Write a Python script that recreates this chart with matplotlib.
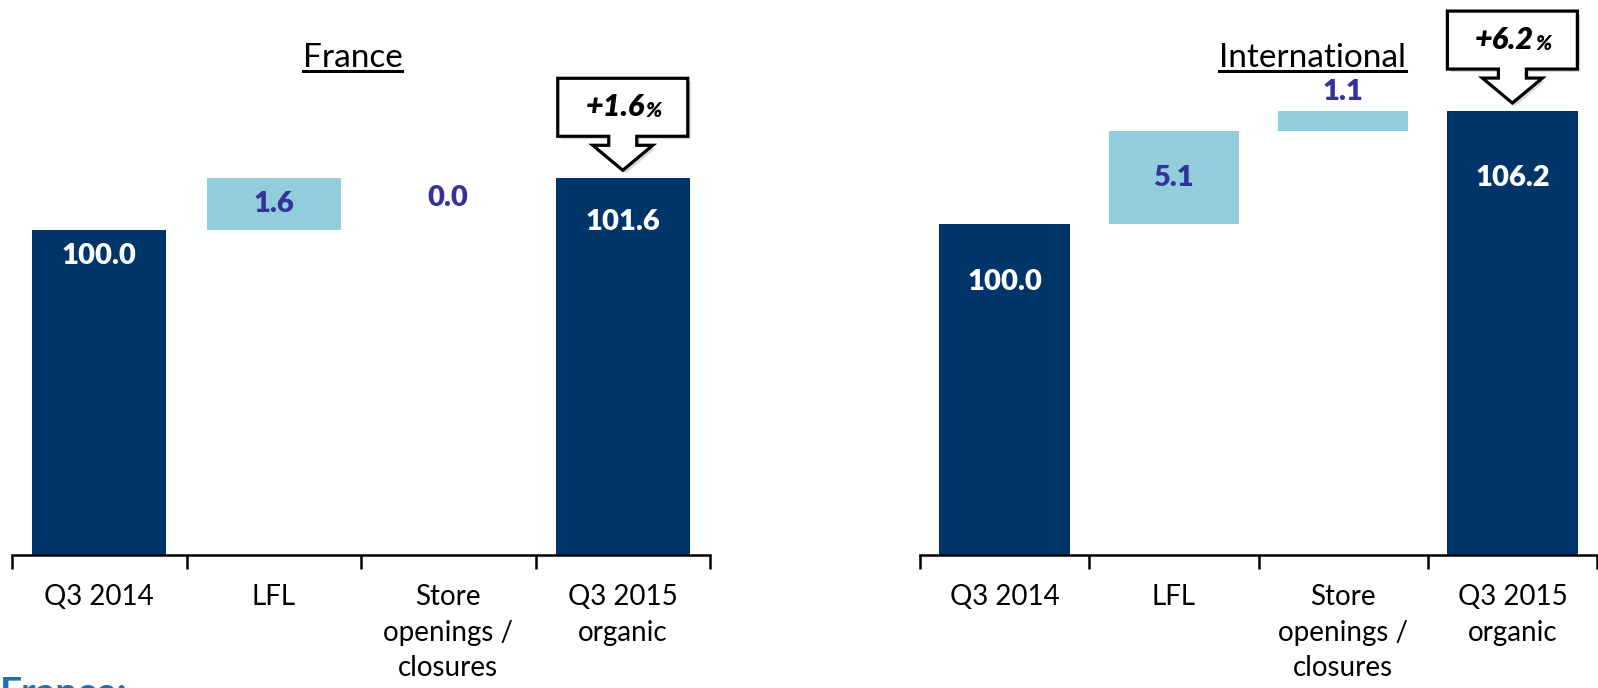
import matplotlib
matplotlib.use("Agg")
import matplotlib.pyplot as plt
from matplotlib.patches import Polygon
from matplotlib.transforms import IdentityTransform
from matplotlib.lines import Line2D

plt.rcParams['font.family'] = ['Lato', 'DejaVu Sans']

# ---- data ----
categories = ["Q3 2014", "LFL", "Store\nopenings /\nclosures", "Q3 2015\norganic"]
france_values = [100.0, 1.6, 0.0, 101.6]
intl_values = [100.0, 5.1, 1.1, 106.2]
bar_kinds = ["total", "delta", "delta", "total"]
panel_titles = ["France", "International"]

# ---- styles ----
DARK = "#00356A"
LIGHT = "#92CDDC"
LABEL_PURPLE = "#333399"
W, H = 1598, 688
fig = plt.figure(figsize=(W / 100, H / 100), dpi=100)

panels = [
    dict(values=france_values, title=panel_titles[0], xl=12, xr=710, ylim=(90.0, 107.09),
         label_off=[-26, 0, -20, -44], title_x=352.5),
    dict(values=intl_values, title=panel_titles[1], xl=920, xr=1597, ylim=(81.9, 112.28),
         label_off=[-58, 0, 19, -67], title_x=1312.5),
]
base_y = 555

axes = []
for p in panels:
    ax = fig.add_axes([p['xl'] / W, 1 - base_y / H, (p['xr'] - p['xl']) / W, base_y / H])
    axes.append(ax)
    vals = p['values']
    x = list(range(len(categories)))
    bottoms, heights, colors = [], [], []
    running = 0.0
    for v, k in zip(vals, bar_kinds):
        if k == "total":
            bottoms.append(p['ylim'][0]); heights.append(v - p['ylim'][0]); colors.append(DARK)
            running = v
        else:
            bottoms.append(running); heights.append(v); colors.append(LIGHT)
            running += v
    ax.bar(x, heights, bottom=bottoms, width=0.77, color=colors, zorder=2)
    ax.set_xlim(-0.5, len(categories) - 0.5)
    ax.set_ylim(*p['ylim'])
    for s in ['top', 'right', 'left']:
        ax.spines[s].set_visible(False)
    ax.spines['bottom'].set_linewidth(1.8)
    ax.spines['bottom'].set_zorder(3)
    ax.set_yticks([])
    ax.set_xticks([i - 0.5 for i in range(len(categories) + 1)])
    ax.set_xticklabels([])
    ax.tick_params(axis='x', which='major', direction='out', length=10, width=1.8)
    ax.set_xticks(x, minor=True)
    ax.set_xticklabels(categories, minor=True, fontsize=20, linespacing=1.45, va='top')
    ax.tick_params(axis='x', which='minor', length=0, pad=21)

    for i, (v, k) in enumerate(zip(vals, bar_kinds)):
        top = bottoms[i] + heights[i]
        if k == "total":
            ax.annotate(f"{v:.1f}", (i, top), xytext=(0, p['label_off'][i] * 0.72),
                        textcoords='offset points', ha='center', va='center',
                        color='white', fontsize=21, fontweight='heavy', zorder=4)
        else:
            if p['label_off'][i] == 0:
                ax.text(i, bottoms[i] + v / 2, f"{v:.1f}", ha='center', va='center',
                        color=LABEL_PURPLE, fontsize=21, fontweight='heavy', zorder=4)
            else:
                ax.annotate(f"{v:.1f}", (i, top), xytext=(0, p['label_off'][i] * 0.72),
                            textcoords='offset points', ha='center', va='center',
                            color=LABEL_PURPLE, fontsize=21, fontweight='heavy', zorder=4)

# titles with underline
fig.canvas.draw()
renderer = fig.canvas.get_renderer()
for p in panels:
    t = fig.text(p['title_x'] / W, 1 - 67 / H, p['title'], ha='center', va='baseline',
                 fontsize=24, color='black')
    bb = t.get_window_extent(renderer=renderer)
    fig.add_artist(Line2D([bb.x0 / W, bb.x1 / W], [1 - 71 / H, 1 - 71 / H],
                          transform=fig.transFigure, color='black', lw=2.2))

# callouts
fig.canvas.draw()
shape = [(0, 0), (30, 25), (14, 25), (14, 34), (65, 34), (65, 92), (-65, 92),
         (-65, 34), (-14, 34), (-14, 25), (-30, 25)]
for ax, p in zip(axes, panels):
    vals = p['values']
    i = len(vals) - 1
    px, py = ax.transData.transform((i, vals[i]))
    tip_y = py + 8
    verts = [(px + dx, tip_y + dy) for dx, dy in shape]
    shadow = Polygon([(vx + 3, vy - 3) for vx, vy in verts], closed=True,
                     facecolor='#BBBBBB', edgecolor='none', alpha=0.6,
                     transform=IdentityTransform(), zorder=5)
    poly = Polygon(verts, closed=True, facecolor='white', edgecolor='black', lw=2.3,
                   joinstyle='miter', transform=IdentityTransform(), zorder=6)
    fig.add_artist(shadow)
    fig.add_artist(poly)
    growth = vals[i] - vals[0]
    cx, cy = px / W, (tip_y + 63) / H
    fig.text(cx + 22 / W, cy, f"+{growth:.1f}", ha='right', va='center', fontsize=22,
             fontweight='heavy', fontstyle='italic', color='black', zorder=7)
    fig.text(cx + 23 / W, cy - 3 / H, "%", ha='left', va='center', fontsize=15,
             fontweight='heavy', fontstyle='italic', color='black', zorder=7)

# partial caption at bottom-left (cut off by the figure edge, as in the source)
fig.text(0.0, 1 - 676 / H, "France:", ha='left', va='top', fontsize=28,
         fontweight='bold', color='#1F6FB4')

fig.savefig("out.png", dpi=100)
